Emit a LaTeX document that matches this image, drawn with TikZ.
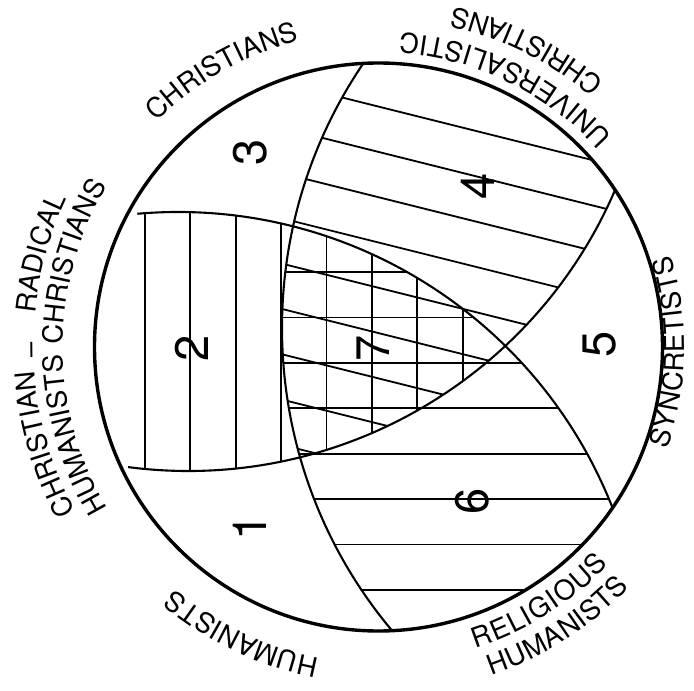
\documentclass[tikz,border=0pt]{standalone}
\usepackage{fontspec}
\setmainfont{TeX Gyre Heros}
\usetikzlibrary{decorations.text}
\newcommand{\fonterotulo}{\fontsize{27.5}{30}\selectfont}
\newcommand{\fontenumero}{\fontsize{47}{50}\selectfont}

\begin{document}
\begin{tikzpicture}[
    x=1pt, y=1pt,
    circulo/.style={line width=3.4pt},
    arco/.style={line width=2.1pt},
    hachura/.style={line width=1.8pt},
    rotulo/.style={decorate, decoration={text along path, text align=center, text={|\fonterotulo|#1}}},
    rotulo ajustado/.style={decorate, decoration={text along path, text align=fit to path, text={|\fonterotulo|#1}}},
    numero/.style={rotate=90, font=\fontenumero, inner sep=0pt}
]

    \useasboundingbox (-378.5,-344) rectangle (315.5,347);

    % 1. Centros dos círculos
    % (Os três arcos internos têm quase o mesmo raio, cerca de 467.)
    \coordinate (O) at (0,0);
    \coordinate (OA) at (-200.5,-332); % arco de cima da lente
    \coordinate (OB) at (-190.5,341);  % arco de baixo da lente
    \coordinate (OC) at (374.5,19);    % arco vertical

    % 2. Hachuras verticais (lente 2 e 7)
    \begin{scope}
        \clip (O) circle (284);
        \clip (OA) circle (467);
        \clip (OB) circle (465);
        \foreach \k in {0,...,7}
            \draw[hachura] ({-233.5+45.4*\k},-300) -- ++(0,600);
    \end{scope}

    % 3. Hachuras inclinadas (regiões 4 e 7)
    \begin{scope}
        \clip (O) circle (284);
        \clip (OC) circle (471);
        \clip (OB) circle (465);
        \foreach \k in {0,...,8}
            \draw[hachura] (-330,{322.9-45.3*\k}) -- ++(700,-175);
    \end{scope}

    % 4. Hachuras horizontais (regiões 6 e 7)
    \begin{scope}
        \clip (O) circle (284);
        \clip (OC) circle (471);
        \clip (OA) circle (467);
        \foreach \k in {0,...,7}
            \draw[hachura] (-300,{75-45.4*\k}) -- ++(650,0);
    \end{scope}

    % 5. Arcos internos
    \begin{scope}
        \clip (O) circle (284);
        \draw[arco] (OC) ++(140:471) arc[start angle=140, end angle=226, radius=471];
        \draw[arco] (OA) ++(95:467) arc[start angle=95, end angle=15, radius=467];
        \draw[arco] (OB) ++(-97.4:465) arc[start angle=-97.4, end angle=-15, radius=465];
    \end{scope}

    % 6. Círculo principal
    \draw[circulo] (O) circle (284);

    % 7. Números das regiões
    \node[numero] (n1) at (-128.5,-180) {1};
    \node[numero] (n2) at (-186.5,-1) {2};
    \node[numero] (n3) at (-128.5,195) {3};
    \node[numero] (n4) at (99.5,161) {4};
    \node[numero] (n5) at (221.5,3) {5};
    \node[numero] (n6) at (93.5,-154) {6};
    \node[numero] (n7) at (-5.5,-1) {7};

    % 8. Rótulos com o topo para fora (sentido horário)
    \path[rotulo ajustado=CHRISTIANS] (134.6:316.5) arc[start angle=134.6, end angle=104.7, radius=316.5];
    \path[rotulo ajustado=HUMANISTS] (259.2:316.5) arc[start angle=259.2, end angle=230.6, radius=316.5];
    \path[rotulo=CHRISTIAN] (226.2:345) arc[start angle=226.2, end angle=166.2, radius=345];
    \path[rotulo=RADICAL] (194.5:345) arc[start angle=194.5, end angle=134.5, radius=345];
    \path[rotulo=HUMANISTS] (226.1:315.5) arc[start angle=226.1, end angle=166.1, radius=315.5];
    \path[rotulo=CHRISTIANS] (194.4:315.5) arc[start angle=194.4, end angle=134.4, radius=315.5];
    \node[rotate=90.5, font=\fonterotulo, inner sep=0pt] (traco) at (180.5:343) {–};

    % 9. Rótulos com o topo para dentro (sentido anti-horário)
    \path[rotulo ajustado=UNIVERSALISTIC] (42:315) arc[start angle=42, end angle=86, radius=315];
    \path[rotulo ajustado=CHRISTIANS] (49.6:348.5) arc[start angle=49.6, end angle=77.5, radius=348.5];
    \path[rotulo ajustado=SYNCRETISTS] (-19.5:306) arc[start angle=-19.5, end angle=17.5, radius=306];
    \path[rotulo ajustado=RELIGIOUS] (-72.2:316.5) arc[start angle=-72.2, end angle=-43.3, radius=316.5];
    \path[rotulo ajustado=HUMANISTS] (-71:347.5) arc[start angle=-71, end angle=-43.7, radius=347.5];

\end{tikzpicture}
\end{document}
